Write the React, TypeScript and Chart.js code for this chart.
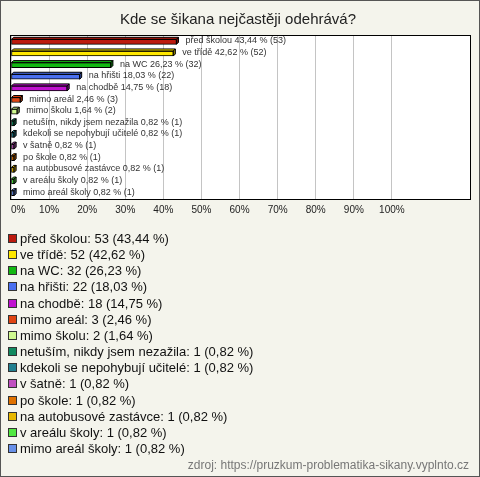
import React, { useEffect, useRef } from 'react';
import { Chart, registerables } from 'chart.js';

Chart.register(...registerables);

const TITLE = 'Kde se šikana nejčastěji odehrává?';
const SOURCE = 'zdroj: https://pruzkum-problematika-sikany.vyplnto.cz';

const categories = [
  'před školou',
  've třídě',
  'na WC',
  'na hřišti',
  'na chodbě',
  'mimo areál',
  'mimo školu',
  'netuším, nikdy jsem nezažila',
  'kdekoli se nepohybují učitelé',
  'v šatně',
  'po škole',
  'na autobusové zastávce',
  'v areálu školy',
  'mimo areál školy',
];
const counts = [53, 52, 32, 22, 18, 3, 2, 1, 1, 1, 1, 1, 1, 1];
const percents = [43.44, 42.62, 26.23, 18.03, 14.75, 2.46, 1.64, 0.82, 0.82, 0.82, 0.82, 0.82, 0.82, 0.82];
const colors = [
  '#BC1A0E',
  '#FFE800',
  '#12B812',
  '#4A70F0',
  '#C012D0',
  '#E04412',
  '#D0FA90',
  '#128A60',
  '#228090',
  '#C050C0',
  '#E07200',
  '#E8B800',
  '#52E842',
  '#6890E8',
];
const xTickValues = [0, 10, 20, 30, 40, 50, 60, 70, 80, 90, 100];

const W = 480;
const H = 477;
const FONT = '"Liberation Sans", Arial, sans-serif';
const DEPTH = 2;

const fmt = (v: number) => v.toFixed(2).replace('.', ',');

function darken(hex: string, f: number) {
  const n = parseInt(hex.slice(1), 16);
  const r = Math.round(((n >> 16) & 255) * f);
  const g = Math.round(((n >> 8) & 255) * f);
  const b = Math.round((n & 255) * f);
  return `rgb(${r},${g},${b})`;
}

const framePlugin = {
  id: 'frame',
  beforeDraw(chart: any) {
    const ctx = chart.ctx;
    const a = chart.chartArea;
    ctx.save();
    ctx.fillStyle = '#F4F4EC';
    ctx.fillRect(0, 0, W, H);
    ctx.strokeStyle = '#555';
    ctx.lineWidth = 1;
    ctx.strokeRect(0.5, 0.5, W - 1, H - 1);
    ctx.fillStyle = '#ffffff';
    ctx.fillRect(a.left - 1, a.top - 1, a.right - a.left + 2, a.bottom - a.top + 2);
    ctx.fillStyle = '#222';
    ctx.font = `15px ${FONT}`;
    ctx.textAlign = 'center';
    ctx.textBaseline = 'middle';
    ctx.fillText(TITLE, 238, 20);
    ctx.restore();
  },
  afterDatasetsDraw(chart: any) {
    const ctx = chart.ctx;
    const a = chart.chartArea;
    const meta = chart.getDatasetMeta(0);
    ctx.save();
    ctx.lineWidth = 1;
    ctx.strokeStyle = '#000';
    meta.data.forEach((el: any, i: number) => {
      const p = el.getProps(['x', 'y', 'base', 'height'], true);
      const top = p.y - p.height / 2;
      const bottom = p.y + p.height / 2;
      const x0 = p.base;
      const x1 = p.x;
      ctx.beginPath();
      ctx.moveTo(x0, top);
      ctx.lineTo(x0 + DEPTH, top - DEPTH);
      ctx.lineTo(x1 + DEPTH, top - DEPTH);
      ctx.lineTo(x1, top);
      ctx.closePath();
      ctx.fillStyle = colors[i];
      ctx.fill();
      ctx.stroke();
      ctx.beginPath();
      ctx.moveTo(x1, top);
      ctx.lineTo(x1 + DEPTH, top - DEPTH);
      ctx.lineTo(x1 + DEPTH, bottom - DEPTH);
      ctx.lineTo(x1, bottom);
      ctx.closePath();
      ctx.fillStyle = darken(colors[i], 0.6);
      ctx.fill();
      ctx.stroke();
      ctx.fillStyle = '#333';
      ctx.font = `9px ${FONT}`;
      ctx.textAlign = 'left';
      ctx.textBaseline = 'middle';
      ctx.fillText(`${categories[i]} ${fmt(percents[i])} % (${counts[i]})`, x1 + DEPTH + 7, p.y - 1);
    });
    ctx.strokeStyle = '#000';
    ctx.strokeRect(a.left - 0.5, a.top - 0.5, a.right - a.left + 1, a.bottom - a.top + 1);
    ctx.restore();
  },
  afterDraw(chart: any) {
    const ctx = chart.ctx;
    ctx.save();
    ctx.font = `13px ${FONT}`;
    ctx.textAlign = 'left';
    ctx.textBaseline = 'middle';
    categories.forEach((c, i) => {
      const cy = Math.round(238 + i * 16.15);
      ctx.fillStyle = colors[i];
      ctx.fillRect(8, cy - 4, 9, 9);
      ctx.strokeStyle = '#333';
      ctx.lineWidth = 1;
      ctx.strokeRect(8.5, cy - 3.5, 8, 8);
      ctx.fillStyle = '#111';
      ctx.fillText(`${c}: ${counts[i]} (${fmt(percents[i])} %)`, 20, cy + 1);
    });
    ctx.fillStyle = '#777';
    ctx.font = `12px ${FONT}`;
    ctx.textAlign = 'right';
    ctx.fillText(SOURCE, 469, 466);
    ctx.restore();
  },
};

export default function App() {
  const ref = useRef<HTMLCanvasElement | null>(null);
  useEffect(() => {
    if (!ref.current) return;
    const chart = new Chart(ref.current, {
      type: 'bar',
      data: {
        labels: categories,
        datasets: [
          {
            data: percents,
            backgroundColor: colors,
            borderColor: '#000',
            borderWidth: 1,
            borderSkipped: false,
            barThickness: 5,
          },
        ],
      },
      options: {
        indexAxis: 'y',
        responsive: false,
        animation: false,
        devicePixelRatio: 1,
        layout: { padding: { top: 36, left: 11, right: 10, bottom: 256 } },
        plugins: { legend: { display: false }, tooltip: { enabled: false }, title: { display: false } },
        scales: {
          x: {
            type: 'linear',
            min: 0,
            max: 120.5,
            afterBuildTicks: (scale: any) => {
              scale.ticks = [...xTickValues, 120.5].map((v) => ({ value: v }));
            },
            ticks: {
              autoSkip: false,
              align: 'inner',
              padding: 5,
              color: '#222',
              font: { size: 10, family: FONT },
              callback: (v: any) => (Number(v) <= 100 ? `${v}%` : ''),
            },
            grid: {
              drawTicks: false,
              color: (c: any) => (c.tick && c.tick.value <= 100 ? '#C4C4C4' : 'rgba(0,0,0,0)'),
            },
            border: { display: false },
          },
          y: { display: false },
        },
      },
      plugins: [framePlugin],
    } as any);
    return () => chart.destroy();
  }, []);
  return (
    <div style={{ position: 'absolute', left: 0, top: 0, width: W, height: H }}>
      <canvas ref={ref} width={W} height={H} style={{ display: 'block' }} />
    </div>
  );
}
